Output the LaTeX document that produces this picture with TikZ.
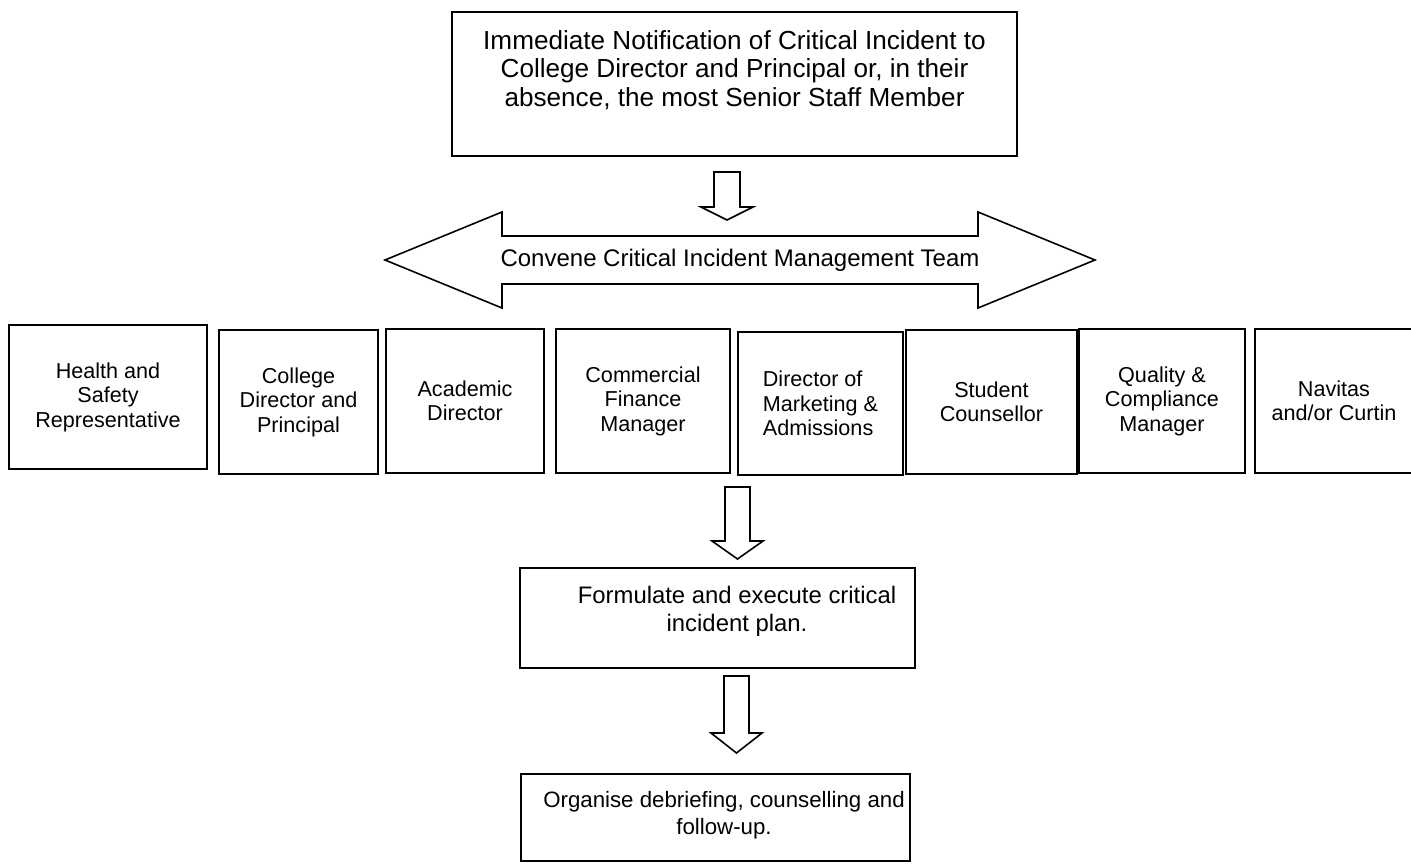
\documentclass[tikz,border=0pt]{standalone}
\usepackage{fontspec}
\setmainfont{Liberation Sans}
\begin{document}
\begin{tikzpicture}[x=0.75pt,y=-0.75pt,
  box/.style={draw, line width=1.25pt, inner sep=0pt, align=center, minimum height=108pt,
    font=\fontsize{16.2}{18.4}\selectfont},
  bigbox/.style={draw, line width=1.25pt, inner sep=0pt},
  blockarrow/.style={draw, line width=1.2pt, line join=miter},
  txt/.style={inner sep=0pt, align=center}]
\useasboundingbox (0,0) rectangle (1411,864);

% top box
\node[bigbox, minimum width=423.75pt, minimum height=108pt] (notify) at (734.5,84) {};
\node[txt, font=\fontsize{19.6}{21.4}\selectfont] (notifytext) at (734.5,70)
  {Immediate Notification of Critical Incident to\\College Director and Principal or, in their\\absence, the most Senior Staff Member};

% arrow 1
\draw[blockarrow] (714,172) -- (740,172) -- (740,207) -- (753,207) -- (727,220) -- (701,207) -- (714,207) -- cycle;

% double arrow
\draw[blockarrow] (385,260) -- (502,212) -- (502,236) -- (978,236) -- (978,212) -- (1095,260)
  -- (978,308) -- (978,284) -- (502,284) -- (502,308) -- cycle;
\node[txt, font=\fontsize{18}{20}\selectfont] (team) at (740,260) {Convene Critical Incident Management Team};

% row of boxes
\node[box, minimum width=148.5pt] (hs) at (108,397) {Health and\\Safety\\Representative};
\node[box, minimum width=119.25pt] (cdp) at (298.5,402) {College\\Director and\\Principal};
\node[box, minimum width=118.5pt] (ad) at (465,401) {Academic\\Director};
\node[box, minimum width=130.5pt] (cfm) at (643,401) {Commercial\\Finance\\Manager};
\node[box, minimum width=123.75pt, minimum height=107.25pt, align=left] (dma) at (820.5,403.5) {Director of\\Marketing \&\\Admissions};
\node[box, minimum width=128.25pt] (sc) at (991.5,402) {Student\\Counsellor};
\node[box, minimum width=124.5pt] (qcm) at (1162,401) {Quality \&\\Compliance\\Manager};
\node[box, minimum width=118.5pt] (nc) at (1334,401) {Navitas\\and/or Curtin};

% arrow 2
\draw[blockarrow] (725,487) -- (750,487) -- (750,541) -- (763,541) -- (737.5,559) -- (712,541) -- (725,541) -- cycle;

% plan box
\node[bigbox, minimum width=296.25pt, minimum height=75pt] (plan) at (717.5,618) {};
\node[txt, font=\fontsize{17.9}{21}\selectfont] (plantext) at (737,611)
  {Formulate and execute critical\\incident plan.};

% arrow 3
\draw[blockarrow] (724,676) -- (749,676) -- (749,733) -- (762,733) -- (736.5,753) -- (711,733) -- (724,733) -- cycle;

% debrief box
\node[bigbox, minimum width=291.75pt, minimum height=65.25pt] (debrief) at (715.5,817.5) {};
\node[txt, font=\fontsize{16.7}{20.5}\selectfont] (debrieftext) at (724,815)
  {Organise debriefing, counselling and\\follow-up.};
\end{tikzpicture}
\end{document}
